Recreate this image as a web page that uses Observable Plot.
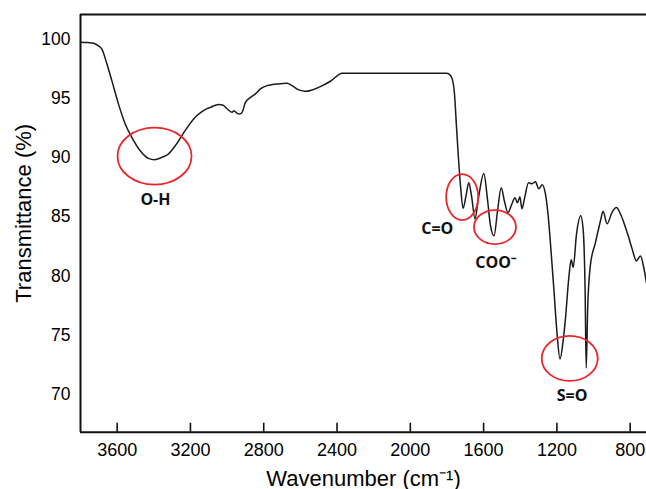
<!DOCTYPE html>
<html><head><meta charset="utf-8">
<script src="https://cdn.jsdelivr.net/npm/d3@7"></script>
<script src="https://cdn.jsdelivr.net/npm/@observablehq/plot@0.6"></script>
<style>body{margin:0;background:#fff}</style>
</head><body><div id="chart"></div>
<script>
// FTIR spectrum
const wavenumber = [3800,3760,3729,3700,3684,3656,3629,3593,3556,3520,3474,3429,3396,3356,3320,3283,3229,3174,3145,3110,3091,3047,3025,2999,2972,2963,2945,2931,2918,2900,2872,2845,2818,2781,2754,2709,2672,2645,2609,2572,2536,2491,2436,2372,
  1803,1786,1772,1759,1748,1737,1726,1712,1696,1681,1666,1647,1628,1599,1579,1563,1543,1524,1504,1486,1467,1448,1429,1415,1402,1391,1377,1355,1336,1317,1299,1280,1262,1244,1235,1217,1199,1183,1166,1153,1135,1122,1111,1093,1070,1056,1046,1040,1032,1017,990,962,948,926,899,875,853,835,808,789,766,744,726,711];
const transmittance = [99.73,99.70,99.65,99.40,99.17,97.91,96.49,94.53,92.84,91.71,90.58,89.93,89.82,90.02,90.30,91.00,92.27,93.40,93.79,94.13,94.24,94.47,94.44,94.10,93.82,93.96,93.73,93.68,93.82,94.66,95.08,95.37,95.79,96.07,96.16,96.22,96.27,96.07,95.71,95.59,95.71,95.99,96.44,97.11,
  97.11,97.00,96.66,95.40,92.61,89.91,87.63,85.73,86.78,87.88,86.78,84.84,86.60,88.67,86.50,84.30,83.40,85.50,87.46,86.30,85.35,86.00,86.61,86.19,86.70,85.68,86.53,87.88,87.80,87.96,87.37,87.71,86.87,84.50,82.73,79.01,75.13,73.01,74.53,76.48,79.86,81.38,80.73,83.55,85.10,83.80,78.76,72.25,77.32,80.95,82.81,84.67,85.47,84.42,85.39,85.79,85.24,84.53,83.26,82.28,81.29,81.71,80.73,79.43];

const xTicks = [3600, 3200, 2800, 2400, 2000, 1600, 1200, 800];
const yTicks = [70, 75, 80, 85, 90, 95, 100];

// band annotations
const bandLabels = ["O-H", "C=O", "COO⁻", "S=O"];
const labelX = [3391, 1853, 1534, 1117];
const labelY = [86.44, 83.97, 81.15, 69.89];
const ringX = [3396, 1717, 1538, 1130];
const ringY = [90.12, 86.67, 84.14, 73.06];

const xDomain = [3800, 711];
const yDomain = [66.84, 102.07];

const spectrum = wavenumber.map((w, i) => ({w, t: transmittance[i]}));
const labels = bandLabels.map((s, i) => ({s, x: labelX[i], y: labelY[i]}));
const rings = bandLabels.map((s, i) => ({s, x: ringX[i], y: ringY[i]}));

// ring sizes in pixels (style)
const ringSize = {"O-H": [37, 28.5], "C=O": [16, 23], "COO⁻": [21, 17], "S=O": [28, 22.5]};
function ellipseSymbol(rx, ry) {
  const k = 0.5522847498;
  return {draw(c) {
    c.moveTo(rx, 0);
    c.bezierCurveTo(rx, k * ry, k * rx, ry, 0, ry);
    c.bezierCurveTo(-k * rx, ry, -rx, k * ry, -rx, 0);
    c.bezierCurveTo(-rx, -k * ry, -k * rx, -ry, 0, -ry);
    c.bezierCurveTo(k * rx, -ry, rx, -k * ry, rx, 0);
    c.closePath();
  }};
}

const W = 646, H = 489, mL = 80, mR = 0, mT = 14, mB = 57.3;
const frameH = H - mT - mB;

const chart = Plot.plot({
  width: W, height: H,
  marginLeft: mL, marginRight: mR, marginTop: mT, marginBottom: mB,
  style: {background: "#fff", color: "#000", fontFamily: "'Liberation Sans', Arial, sans-serif"},
  x: {domain: xDomain},
  y: {domain: yDomain},
  marks: [
    Plot.axisX({ticks: xTicks, tickSize: 0, tickPadding: 11.5, fontSize: 18, label: null, tickFormat: d => String(d)}),
    Plot.axisY({ticks: yTicks, tickSize: 0, tickPadding: 10, fontSize: 17.5, label: null}),
    Plot.ruleX(xTicks, {stroke: "#111", strokeWidth: 1.6, insetTop: frameH - 9}),
    Plot.ruleY([yDomain[1]], {stroke: "#111", strokeWidth: 2}),
    Plot.ruleY([yDomain[0]], {stroke: "#111", strokeWidth: 2}),
    Plot.ruleX([xDomain[0]], {stroke: "#111", strokeWidth: 2}),
    Plot.line(spectrum, {x: "w", y: "t", stroke: "#1a1a1a", strokeWidth: 1.5, curve: "monotone-x"}),
    ...rings.map(r => Plot.dot([r], {x: "x", y: "y", r: 10, symbol: ellipseSymbol(...ringSize[r.s]), stroke: "#e8262b", strokeWidth: 1.8, fill: "none"})),
    Plot.text(labels, {x: "x", y: "y", text: "s", fontSize: 16, fontWeight: "bold", fill: "#111", fontFamily: "'Open Sans', 'Liberation Sans', sans-serif", lineAnchor: "middle"}),
    Plot.text(["Wavenumber (cm⁻¹)"], {frameAnchor: "bottom", text: d => d, dy: 53.3, textAnchor: "middle", lineAnchor: "bottom", fontSize: 22, fill: "#000"}),
    Plot.text(["Transmittance (%)"], {frameAnchor: "left", text: d => d, dx: -49.3, dy: -10, rotate: -90, textAnchor: "middle", lineAnchor: "bottom", fontSize: 22, fill: "#000"})
  ]
});
document.getElementById("chart").appendChild(chart);
</script>
</body></html>
